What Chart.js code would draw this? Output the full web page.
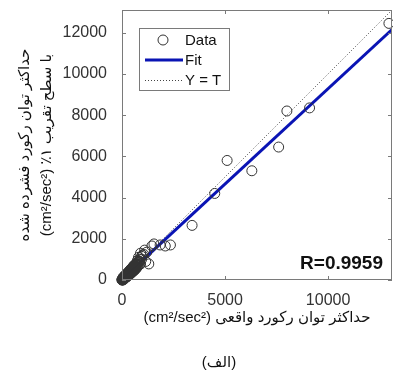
<!DOCTYPE html>
<html>
<head>
<meta charset="utf-8">
<script src="https://cdn.jsdelivr.net/npm/chart.js@4.4.1/dist/chart.umd.min.js"></script>
<style>
  html, body { margin: 0; padding: 0; background: #fff; }
  canvas { display: block; }
</style>
</head>
<body>
<canvas id="fitChart" width="393" height="372"></canvas>
<script>
// real peak power (x) vs compressed-record peak power (y), cm2/sec2
const actualX = [
    12950, 8000, 9100, 7600, 6300, 5100, 4500, 3400, 2350, 2100, 1850, 1550, 1450, 1300,
    1150, 1200, 1050, 950, 1100, 900, 850, 800, 750, 1000,
    700, 680, 650, 620, 600, 580, 560, 540, 520, 500, 480, 460, 440, 420, 400, 380,
    360, 340, 320, 300, 280, 260, 240, 220, 200, 180, 160, 140, 120, 100, 80, 60, 40, 20, 10, 0,
    650, 600, 550, 500, 450, 400, 350, 300, 250, 200, 150, 100, 50,
    700, 640, 590, 530, 470, 410, 350, 290, 230, 170, 110, 60, 30,
    780, 720, 660, 610, 560, 510, 450, 390, 330, 270, 210, 150, 90, 40,
    850, 760, 690, 630, 570, 490, 430, 370, 310, 250, 190, 130, 70,
    900, 820, 740, 670, 590, 520, 460, 400, 340, 280, 220, 160, 100, 50, 20,
    950, 870, 800, 730, 660, 600, 540, 480, 420, 360, 300, 240, 180, 120, 70,
    630, 570, 510, 440, 380, 320, 260, 200, 140, 80, 30, 10,
    680, 610, 540, 470, 410, 340, 270, 210, 150, 90, 50, 0
];
const compressedY = [
    12450, 8200, 8350, 6450, 5300, 5800, 4200, 2650, 1700, 1650, 1700, 1750, 1650, 780,
    900, 1350, 1250, 1150, 1450, 1300, 1000, 1100, 950, 1200,
    720, 600, 680, 560, 640, 520, 590, 470, 540, 430, 500, 400, 470, 360, 420, 330,
    380, 300, 330, 260, 290, 230, 250, 190, 210, 160, 170, 120, 130, 90, 80, 50, 40, 20, 10, 0,
    520, 470, 430, 380, 340, 290, 250, 220, 170, 140, 100, 60, 30,
    800, 730, 680, 610, 560, 480, 410, 340, 270, 200, 130, 70, 40,
    700, 760, 610, 690, 520, 600, 500, 420, 380, 300, 260, 180, 110, 60,
    900, 850, 740, 650, 700, 560, 530, 450, 350, 320, 230, 180, 100,
    780, 920, 640, 760, 500, 610, 380, 470, 280, 350, 170, 230, 60, 110, 0,
    1000, 780, 880, 620, 780, 520, 620, 400, 500, 280, 380, 160, 260, 60, 150,
    600, 540, 470, 420, 350, 300, 230, 180, 120, 70, 20, 40,
    560, 510, 440, 390, 320, 270, 210, 150, 90, 40, 0, 20
];
const fitX = [0, 13100];
const fitY = [30, 12150];
const refX = [0, 13100];
const refY = [0, 13100];
const xTicks = [0, 5000, 10000];
const yTicks = [0, 2000, 4000, 6000, 8000, 10000, 12000];
const axisMax = 13100;
const seriesNames = ['Data', 'Fit', 'Y = T'];
const rLabel = 'R=0.9959';
const xTitle = 'حداکثر توان رکورد واقعی (cm²/sec²)';
const yTitle = ['حداکثر توان رکورد فشرده شده', 'با سطح تقریب ۱٪ (cm²/sec²)'];
const caption = '(الف)';

const LATIN = "'Liberation Sans', Arial, sans-serif";
const MIXED = "'Liberation Sans', 'DejaVu Sans', sans-serif";
const FRAME = '#7a7a7a';
const TEXT = '#333333';

const toPoints = (xs, ys) => xs.map((x, i) => ({ x: x, y: ys[i] }));

// box, inward ticks, legend, titles and R value (matlab look)
const decorations = {
    id: 'decorations',
    afterDraw(chart) {
        const ctx = chart.ctx;
        const a = chart.chartArea;
        const sx = chart.scales.x;
        const sy = chart.scales.y;
        ctx.save();
        ctx.strokeStyle = FRAME;
        ctx.lineWidth = 1;
        ctx.strokeRect(a.left + 0.5, a.top + 0.5, a.right - a.left - 1, a.bottom - a.top - 1);
        ctx.beginPath();
        sx.ticks.forEach(t => {
            const p = Math.round(sx.getPixelForValue(t.value)) + 0.5;
            ctx.moveTo(p, a.bottom); ctx.lineTo(p, a.bottom - 4);
            ctx.moveTo(p, a.top); ctx.lineTo(p, a.top + 4);
        });
        sy.ticks.forEach(t => {
            const p = Math.round(sy.getPixelForValue(t.value)) + 0.5;
            ctx.moveTo(a.left, p); ctx.lineTo(a.left + 4, p);
            ctx.moveTo(a.right, p); ctx.lineTo(a.right - 4, p);
        });
        ctx.stroke();

        // legend
        const ds = chart.data.datasets;
        const lx = 139, ly = 28;
        ctx.fillStyle = '#fff';
        ctx.fillRect(lx, ly, 90, 62);
        ctx.strokeStyle = FRAME;
        ctx.strokeRect(lx + 0.5, ly + 0.5, 90, 62);
        const rows = [ly + 12, ly + 32, ly + 52];
        ctx.strokeStyle = ds[0].borderColor;
        ctx.lineWidth = 1;
        ctx.beginPath();
        ctx.arc(163, rows[0], 5, 0, Math.PI * 2);
        ctx.stroke();
        ctx.strokeStyle = ds[1].borderColor;
        ctx.lineWidth = ds[1].borderWidth;
        ctx.beginPath(); ctx.moveTo(145, rows[1]); ctx.lineTo(183, rows[1]); ctx.stroke();
        ctx.strokeStyle = ds[2].borderColor;
        ctx.lineWidth = ds[2].borderWidth;
        ctx.setLineDash(ds[2].borderDash);
        ctx.beginPath(); ctx.moveTo(145, rows[2] + 0.5); ctx.lineTo(183, rows[2] + 0.5); ctx.stroke();
        ctx.setLineDash([]);
        ctx.fillStyle = '#111';
        ctx.font = '15px ' + LATIN;
        ctx.textAlign = 'left';
        ctx.textBaseline = 'middle';
        ds.forEach((d, i) => ctx.fillText(d.label, 185, rows[i] + 1));

        // correlation
        ctx.font = 'bold 19px ' + LATIN;
        ctx.fillStyle = '#111';
        ctx.textAlign = 'right';
        ctx.fillText(rLabel, 383, 264);

        // farsi titles
        ctx.direction = 'rtl';
        ctx.textAlign = 'center';
        ctx.fillStyle = '#111';
        ctx.font = '15px ' + MIXED;
        ctx.fillText(xTitle, (a.left + a.right) / 2, 318);
        ctx.fillText(caption, 219, 363);
        const cy = (a.top + a.bottom) / 2;
        [25, 47].forEach((x, i) => {
            ctx.save();
            ctx.translate(x, cy);
            ctx.rotate(-Math.PI / 2);
            ctx.fillText(yTitle[i], 0, 0);
            ctx.restore();
        });
        ctx.restore();
    }
};

const plain = v => String(v);

new Chart(document.getElementById('fitChart'), {
    type: 'scatter',
    data: {
        datasets: [
            {
                label: seriesNames[0],
                data: toPoints(actualX, compressedY),
                borderColor: '#333333',
                backgroundColor: 'rgba(0,0,0,0)',
                borderWidth: 1,
                pointRadius: 5,
                pointHoverRadius: 5,
                clip: false,
            },
            {
                type: 'line',
                label: seriesNames[1],
                data: toPoints(fitX, fitY),
                borderColor: '#0a14b4',
                borderWidth: 3,
                pointRadius: 0,
                fill: false,
            },
            {
                type: 'line',
                label: seriesNames[2],
                data: toPoints(refX, refY),
                borderColor: '#444',
                borderWidth: 1,
                borderDash: [1, 2],
                pointRadius: 0,
                fill: false,
            },
        ],
    },
    options: {
        responsive: false,
        animation: false,
        devicePixelRatio: 1,
        layout: { autoPadding: false, padding: { top: 10, right: 1, left: 0, bottom: 0 } },
        plugins: { legend: { display: false }, tooltip: { enabled: false } },
        scales: {
            x: {
                type: 'linear',
                min: 0,
                max: axisMax,
                grid: { display: false },
                border: { display: false },
                afterBuildTicks: s => { s.ticks = xTicks.map(v => ({ value: v })); },
                afterFit: s => { s.height = 92; s.paddingLeft = 0; s.paddingRight = 0; },
                ticks: { color: TEXT, font: { family: LATIN, size: 16 }, padding: 3, maxRotation: 0, callback: plain },
            },
            y: {
                type: 'linear',
                min: 0,
                max: axisMax,
                grid: { display: false },
                border: { display: false },
                afterBuildTicks: s => { s.ticks = yTicks.map(v => ({ value: v })); },
                afterFit: s => { s.width = 122; s.paddingTop = 0; s.paddingBottom = 0; },
                ticks: { color: TEXT, font: { family: LATIN, size: 16 }, padding: 7, callback: plain },
            },
        },
    },
    plugins: [decorations],
});
</script>
</body>
</html>
